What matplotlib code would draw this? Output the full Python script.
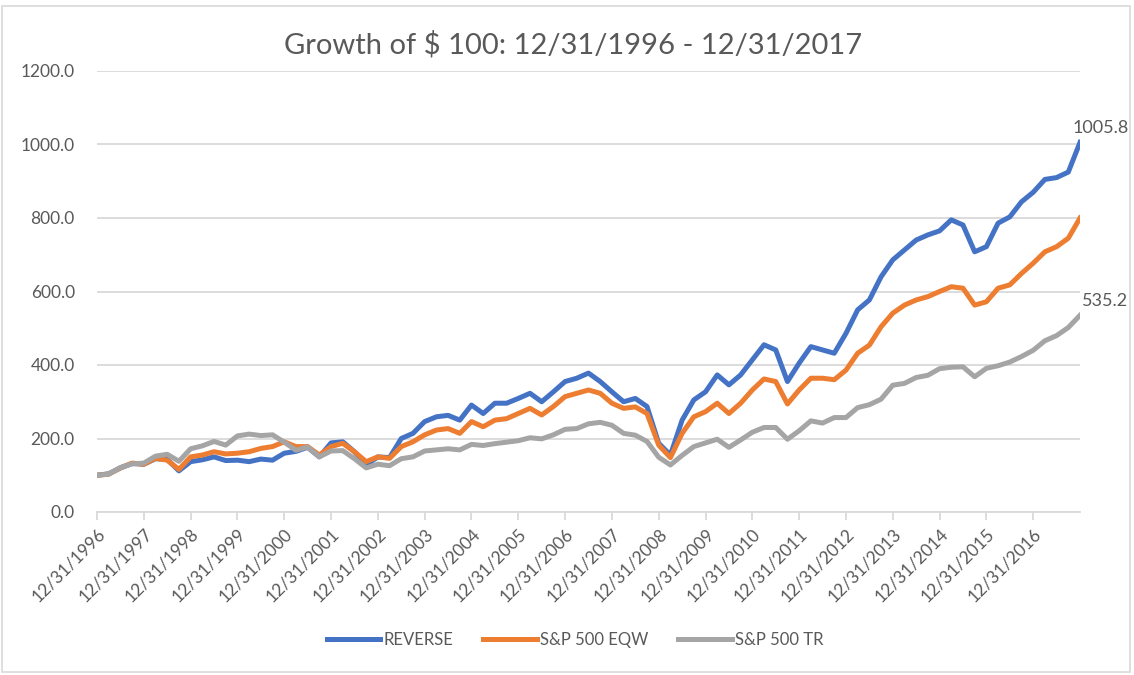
import matplotlib.pyplot as plt
from matplotlib.patches import Rectangle

# quarter-end values, 12/31/1996 .. 12/31/2017
reverse = [100,
           104, 120, 132, 130,
           145, 143, 112, 137,
           142, 150, 140, 141,
           137, 144, 141, 160,
           165, 176, 150, 188,
           191, 164, 128, 150,
           148, 200, 214, 246,
           259, 263, 250, 291,
           268, 296, 296, 309,
           323, 300, 327, 355,
           364, 378, 355, 327,
           300, 309, 287, 187,
           155, 250, 305, 327,
           373, 346, 373, 414,
           455, 441, 355, 405,
           450, 441, 432, 486,
           550, 577, 640, 686,
           713, 740, 754, 765,
           795, 781, 708, 722,
           786, 803, 844, 870,
           905, 910, 925, 1005.8]
eqw = [100,
       103, 120, 133, 130,
       146, 141, 116, 150,
       155, 164, 158, 160,
       164, 173, 178, 191,
       178, 178, 155, 178,
       187, 164, 137, 150,
       146, 178, 191, 210,
       223, 227, 214, 246,
       232, 250, 254, 268,
       282, 264, 287, 314,
       323, 332, 323, 296,
       282, 286, 268, 182,
       148, 214, 259, 273,
       296, 268, 296, 332,
       362, 355, 294, 332,
       364, 364, 360, 386,
       432, 454, 504, 541,
       563, 577, 586, 600,
       613, 609, 563, 572,
       609, 618, 649, 677,
       708, 722, 745, 800]
sp_tr = [100,
         103, 121, 131, 133,
         152, 157, 138, 172,
         180, 192, 182, 207,
         212, 208, 210, 190,
         168, 177, 150, 166,
         167, 145, 120, 130,
         126, 145, 150, 166,
         169, 172, 169, 184,
         181, 186, 190, 194,
         202, 199, 210, 225,
         227, 240, 244, 236,
         214, 209, 192, 149,
         128, 154, 178, 188,
         198, 176, 196, 217,
         230, 230, 198, 221,
         248, 242, 257, 257,
         284, 292, 307, 345,
         350, 366, 372, 390,
         394, 395, 368, 391,
         398, 408, 423, 440,
         466, 480, 502, 535.2]
series_names = ['REVERSE', 'S&P 500 EQW', 'S&P 500 TR']
tick_years = list(range(1996, 2017))
tick_labels = [f'12/31/{y}' for y in tick_years]

colors = ['#4472C4', '#ED7D31', '#A5A5A5']
txt = '#595959'
plt.rcParams['font.family'] = ['Lato', 'DejaVu Sans']

fig = plt.figure(figsize=(11.34, 6.75), dpi=100)
ax = fig.add_axes([97/1134, 1-512/675, (1080-97)/1134, (512-71)/675])

xs = list(range(len(reverse)))
for vals, name, c in zip([reverse, eqw, sp_tr], series_names, colors):
    ax.plot(xs, vals, color=c, lw=3.6, label=name, solid_joinstyle='round')

ax.set_xlim(0, len(reverse) - 1)
ax.set_ylim(0, 1200)
ax.set_yticks(range(0, 1201, 200))
ax.set_yticklabels([f'{v:.1f}' for v in range(0, 1201, 200)])
ax.set_xticks([4 * i for i in range(len(tick_labels))])
ax.set_xticklabels(tick_labels, rotation=45, ha='right', rotation_mode='anchor')
ax.grid(axis='y', color='#d9d9d9', lw=1.3)
ax.set_axisbelow(True)
for s in ['top', 'right', 'left']:
    ax.spines[s].set_visible(False)
ax.spines['bottom'].set_color('#d9d9d9')
ax.spines['bottom'].set_linewidth(1.3)
ax.tick_params(axis='x', colors='#d9d9d9', length=6, width=1.3, labelcolor=txt,
               labelsize=12.5, pad=4)
ax.tick_params(axis='y', length=0, labelcolor=txt, labelsize=12.5, pad=16)

ax.annotate(f'{reverse[-1]:.1f}', (xs[-1], reverse[-1]), xytext=(15, 7),
            textcoords='offset points', ha='center', color=txt, fontsize=13)
ax.annotate(f'{sp_tr[-1]:.1f}', (xs[-1], sp_tr[-1]), xytext=(18, 7),
            textcoords='offset points', ha='center', color=txt, fontsize=13)

fig.text(573/1134, 1-45/675, 'Growth of $ 100: 12/31/1996 - 12/31/2017',
         ha='center', va='center', color=txt, fontsize=21)
fig.legend(loc='center', bbox_to_anchor=(575/1134, 1-640/675), ncol=3,
           frameon=False, fontsize=12, labelcolor=txt, handlelength=3.2,
           columnspacing=1.8, handletextpad=0.2)

fig.patches.append(Rectangle((2/1134, 3/675), 1128/1134, 666/675, transform=fig.transFigure,
                             fill=False, edgecolor='#d9d9d9', lw=1.2))

fig.savefig('out.png', dpi=100)
